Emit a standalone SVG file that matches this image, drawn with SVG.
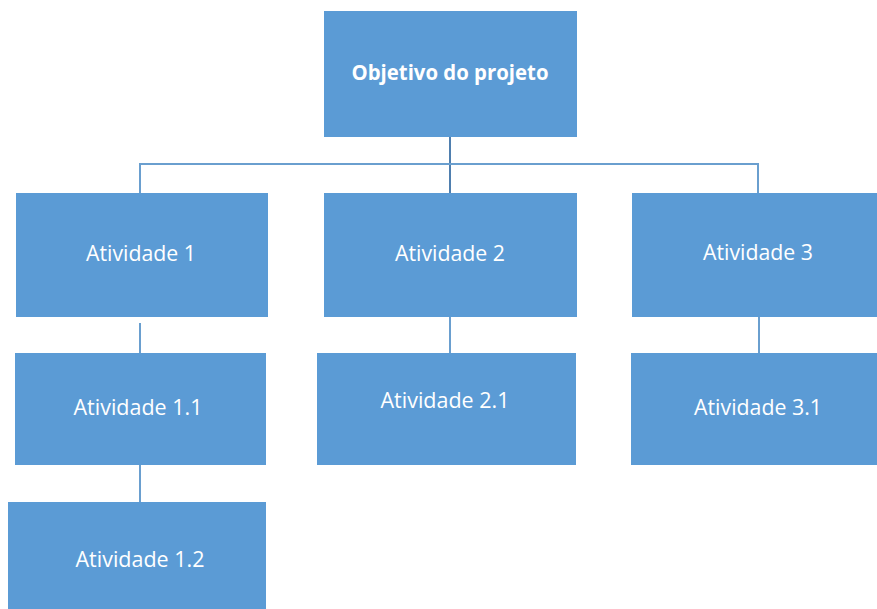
<svg xmlns="http://www.w3.org/2000/svg" width="877" height="609" viewBox="0 0 877 609">
<style>
.box{fill:#5B9BD5;}
.t{fill:#FFFFFF;font-family:"Open Sans","Liberation Sans",sans-serif;font-size:21px;text-anchor:middle;}
.b{font-weight:bold;}
.c{stroke:#6A9FCF;stroke-width:2;fill:none;}
</style>
<rect width="877" height="609" fill="#FFFFFF"/>
<g id="connectors">
<line class="c" x1="450" y1="137" x2="450" y2="193" style="stroke:#4F7FAF"/>
<polyline class="c" points="140,193 140,164 758,164 758,193"/>
<line class="c" x1="140" y1="323" x2="140" y2="353"/>
<line class="c" x1="140" y1="465" x2="140" y2="502"/>
<line class="c" x1="450" y1="317" x2="450" y2="353"/>
<line class="c" x1="759" y1="317" x2="759" y2="353"/>
</g>
<g id="objetivo">
<rect class="box" x="324" y="11" width="253" height="126"/>
<text class="t b" x="450" y="80" textLength="197" lengthAdjust="spacingAndGlyphs">Objetivo do projeto</text>
</g>
<g id="atividade1">
<rect class="box" x="16" y="193" width="252" height="124"/>
<text class="t" x="141" y="261" textLength="110" lengthAdjust="spacingAndGlyphs">Atividade 1</text>
</g>
<g id="atividade2">
<rect class="box" x="324" y="193" width="253" height="124"/>
<text class="t" x="450" y="261" textLength="110" lengthAdjust="spacingAndGlyphs">Atividade 2</text>
</g>
<g id="atividade3">
<rect class="box" x="632" y="193" width="245" height="124"/>
<text class="t" x="758" y="260" textLength="110" lengthAdjust="spacingAndGlyphs">Atividade 3</text>
</g>
<g id="atividade1_1">
<rect class="box" x="15" y="353" width="251" height="112"/>
<text class="t" x="138" y="415" textLength="129" lengthAdjust="spacingAndGlyphs">Atividade 1.1</text>
</g>
<g id="atividade1_2">
<rect class="box" x="8" y="502" width="258" height="107"/>
<text class="t" x="140" y="567" textLength="129" lengthAdjust="spacingAndGlyphs">Atividade 1.2</text>
</g>
<g id="atividade2_1">
<rect class="box" x="317" y="353" width="259" height="112"/>
<text class="t" x="445" y="408" textLength="129" lengthAdjust="spacingAndGlyphs">Atividade 2.1</text>
</g>
<g id="atividade3_1">
<rect class="box" x="631" y="353" width="246" height="112"/>
<text class="t" x="758" y="415" textLength="128" lengthAdjust="spacingAndGlyphs">Atividade 3.1</text>
</g>
</svg>
